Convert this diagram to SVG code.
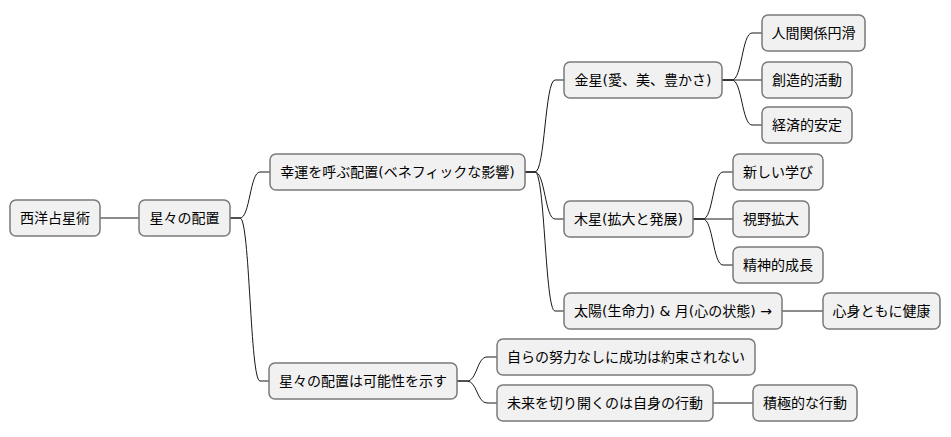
<svg xmlns="http://www.w3.org/2000/svg" width="951" height="437" viewBox="0 0 951 437">
<style>
.n rect{fill:#f1f1f1;stroke:#7a7a7a;stroke-width:1.5;}
.n text{font-family:"DejaVu Sans","Noto Sans CJK JP",sans-serif;font-size:14px;fill:#000;text-anchor:middle;}
#edges path{fill:none;stroke:#181818;stroke-width:1;}
</style>
<rect width="951" height="437" fill="#fff"/>
<g id="edges">
<path d="M100,218 H139"/>
<path d="M230,218 H240 C250,218 250,172 260,172 H270"/>
<path d="M230,218 H240 C250,218 250,381 260,381 H269"/>
<path d="M525,172 H535 C545,172 545,80 555,80 H564"/>
<path d="M525,172 H535 C545,172 545,219 555,219 H564"/>
<path d="M525,172 H535 C545,172 545,311 555,311 H564"/>
<path d="M722,80 H732 C742,80 742,33 752,33 H762"/>
<path d="M722,80 H762"/>
<path d="M722,80 H732 C742,80 742,125 752,125 H762"/>
<path d="M693,219 H703 C713,219 713,172 723,172 H733"/>
<path d="M693,219 H733"/>
<path d="M693,219 H703 C713,219 713,265 723,265 H733"/>
<path d="M782,311 H823"/>
<path d="M457,381 H467 C477,381 477,357 487,357 H497"/>
<path d="M457,381 H467 C477,381 477,403 487,403 H497"/>
<path d="M713,403 H753"/>
</g>
<g id="n1" class="n"><rect x="10" y="200" width="90" height="36" rx="6"/><text x="55" y="223">西洋占星術</text></g>
<g id="n2" class="n"><rect x="139" y="200" width="91" height="36" rx="6"/><text x="184.5" y="223">星々の配置</text></g>
<g id="n3" class="n"><rect x="270" y="154" width="255" height="36" rx="6"/><text x="397.5" y="177">幸運を呼ぶ配置(ベネフィックな影響)</text></g>
<g id="n4" class="n"><rect x="564" y="62" width="158" height="36" rx="6"/><text x="643" y="85">金星(愛、美、豊かさ)</text></g>
<g id="n5" class="n"><rect x="762" y="15" width="103" height="36" rx="6"/><text x="813.5" y="38">人間関係円滑</text></g>
<g id="n6" class="n"><rect x="762" y="62" width="90" height="36" rx="6"/><text x="807" y="85">創造的活動</text></g>
<g id="n7" class="n"><rect x="762" y="107" width="90" height="36" rx="6"/><text x="807" y="130">経済的安定</text></g>
<g id="n8" class="n"><rect x="564" y="201" width="129" height="36" rx="6"/><text x="628.5" y="224">木星(拡大と発展)</text></g>
<g id="n9" class="n"><rect x="733" y="154" width="90" height="36" rx="6"/><text x="778" y="177">新しい学び</text></g>
<g id="n10" class="n"><rect x="733" y="201" width="76" height="36" rx="6"/><text x="771" y="224">視野拡大</text></g>
<g id="n11" class="n"><rect x="733" y="247" width="90" height="36" rx="6"/><text x="778" y="270">精神的成長</text></g>
<g id="n12" class="n"><rect x="564" y="293" width="218" height="36" rx="6"/><text x="673" y="316">太陽(生命力) &amp; 月(心の状態) →</text></g>
<g id="n13" class="n"><rect x="823" y="293" width="117" height="36" rx="6"/><text x="881.5" y="316">心身ともに健康</text></g>
<g id="n14" class="n"><rect x="269" y="363" width="188" height="36" rx="6"/><text x="363" y="386">星々の配置は可能性を示す</text></g>
<g id="n15" class="n"><rect x="497" y="339" width="258" height="36" rx="6"/><text x="626" y="362">自らの努力なしに成功は約束されない</text></g>
<g id="n16" class="n"><rect x="497" y="385" width="216" height="36" rx="6"/><text x="605" y="408">未来を切り開くのは自身の行動</text></g>
<g id="n17" class="n"><rect x="753" y="385" width="104" height="36" rx="6"/><text x="805" y="408">積極的な行動</text></g>
</svg>
